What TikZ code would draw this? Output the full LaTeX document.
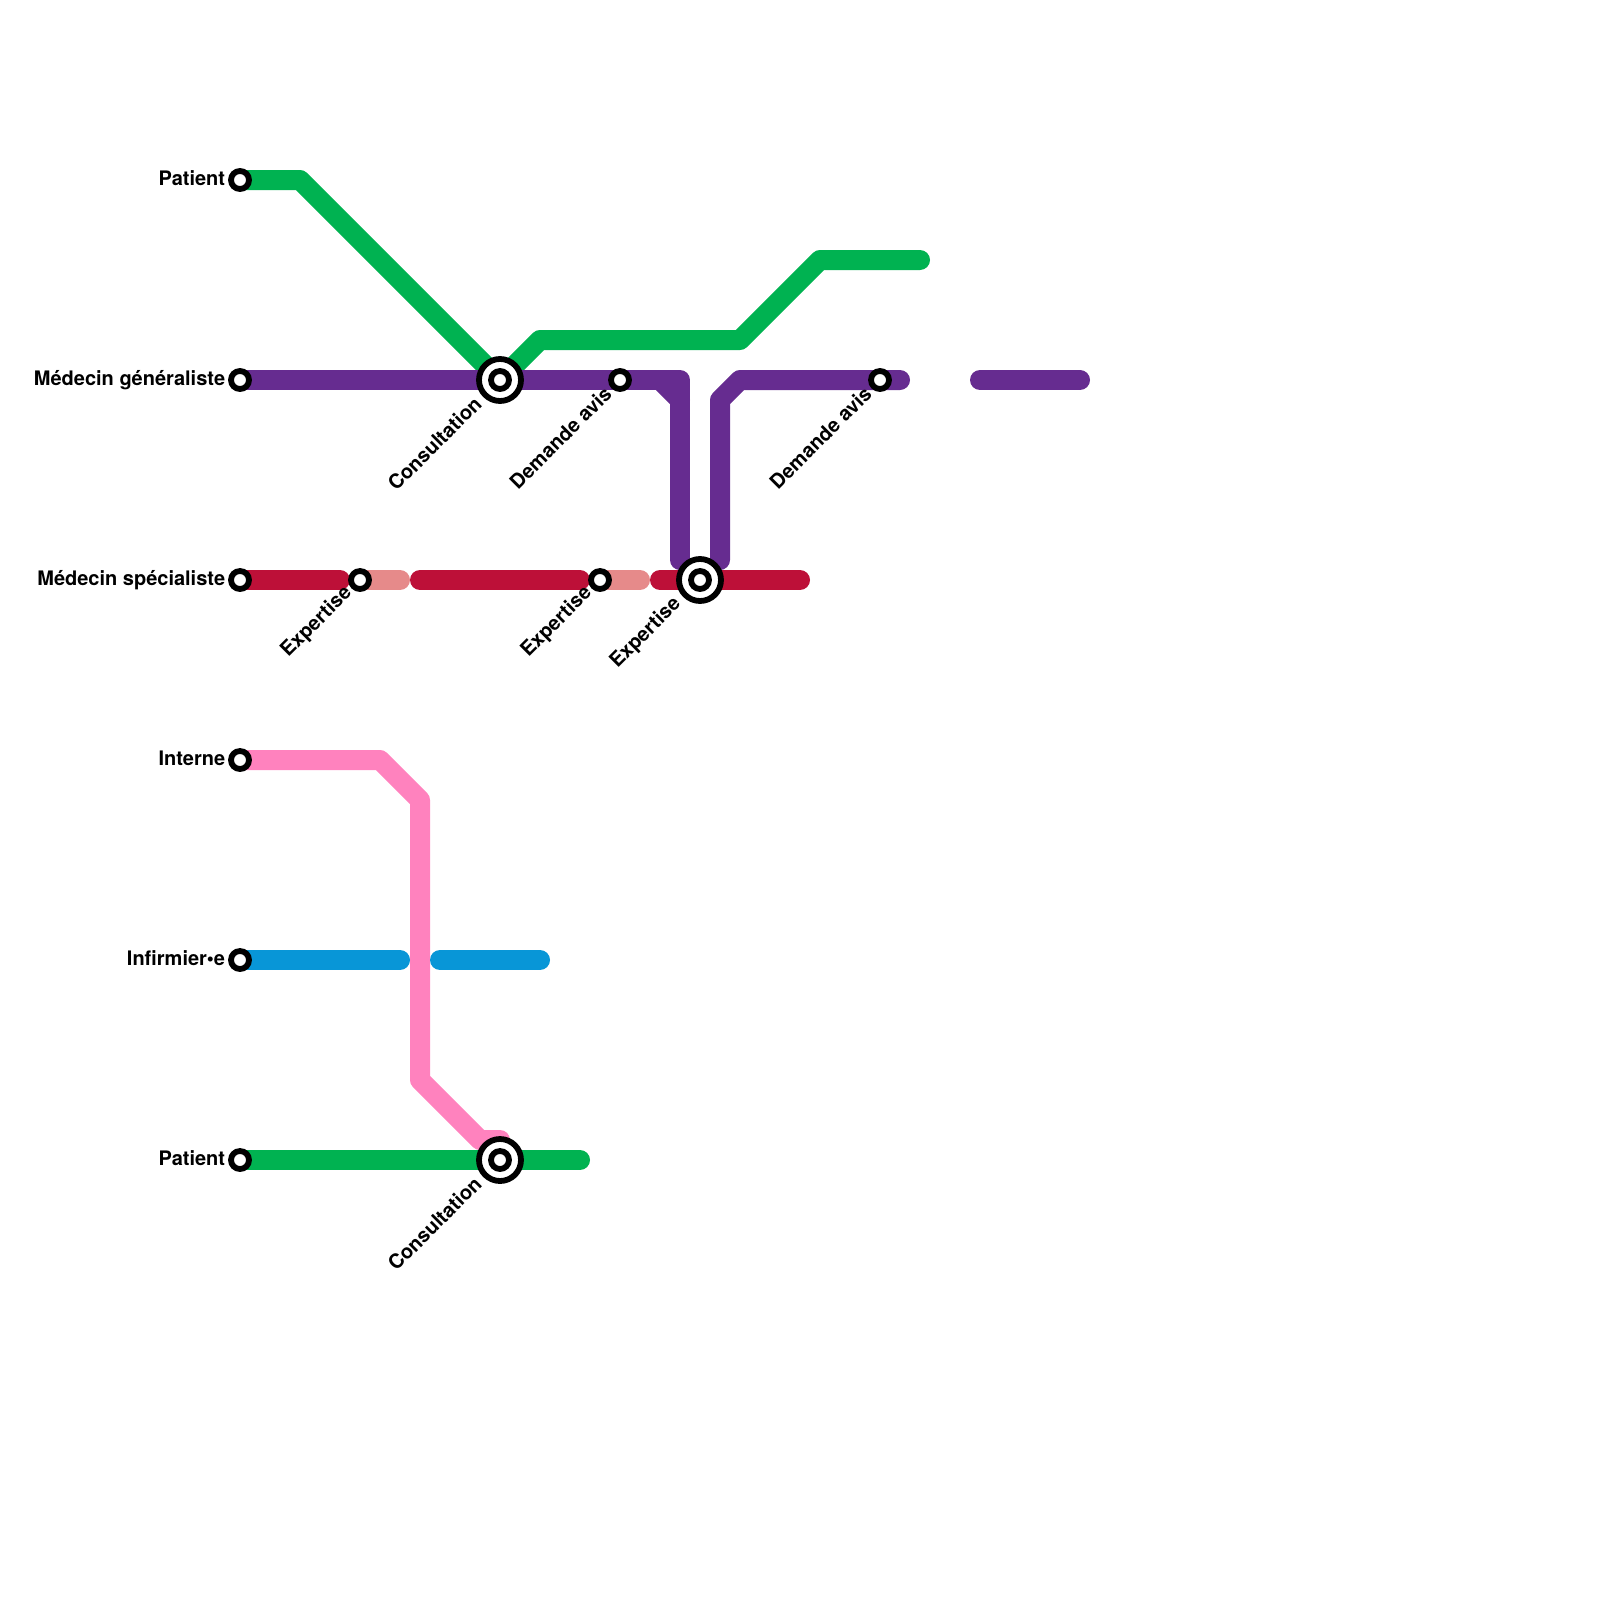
\documentclass[tikz,border=0pt]{standalone}
\usepackage{fontspec}
\setmainfont{TeX Gyre Heros}
\definecolor{lgreen}{HTML}{00B251}
\definecolor{lpurple}{HTML}{662C90}
\definecolor{lred}{HTML}{BD1038}
\definecolor{lsalmon}{HTML}{E68A8A}
\definecolor{lpink}{HTML}{FF82BE}
\definecolor{lblue}{HTML}{0896D7}
\tikzset{
  metro/.style={line width=10pt,line cap=round,line join=round},
  stopnode/.style={circle,draw=black,fill=white,line width=2.9pt,minimum size=9pt,inner sep=0pt},
  hubnode/.style={circle,draw=black,fill=white,line width=2.9pt,minimum size=21pt,inner sep=0pt},
  rowlabel/.style={anchor=base east,font=\bfseries\fontsize{10}{12}\selectfont,inner sep=0pt},
  slantlabel/.style={anchor=east,rotate=45,font=\bfseries\fontsize{10}{12}\selectfont,inner sep=0pt},
}
\begin{document}
\begin{tikzpicture}[x=0.5pt,y=-0.5pt]
\useasboundingbox (0,0) rectangle (1600,1600);
% way points
\foreach \n/\x/\y in {
 ga/300/180,gb/500/380,gc/540/340,gd/740/340,ge/820/260,gf/920/260,
 pa/680/380,pb/680/560,pc/660/380,pd/680/400,pe/720/560,pf/720/400,pg/740/380,ph/900/380,pi/980/380,pj/1080/380,
 ra/340/580,rb/400/580,rc/420/580,rd/580/580,re/640/580,rf/660/580,rg/800/580,
 ka/380/760,kb/420/800,kc/420/1080,kd/480/1140,ke/500/1140,
 ba/400/960,bb/440/960,bc/540/960,
 la/580/1160}
 {\coordinate (\n) at (\x,\y);}
% stations (positions only, drawn on top later)
\coordinate (sPatientA) at (240,180);
\coordinate (sGen) at (240,380);
\coordinate (sSpec) at (240,580);
\coordinate (sInt) at (240,760);
\coordinate (sInf) at (240,960);
\coordinate (sPatientB) at (240,1160);
\coordinate (hConsA) at (500,380);
\coordinate (hExp) at (700,580);
\coordinate (hConsB) at (500,1160);
\coordinate (sAvisA) at (620,380);
\coordinate (sAvisB) at (880,380);
\coordinate (sExpA) at (360,580);
\coordinate (sExpB) at (600,580);
% lines
\draw[metro,lpink] (sInt) -- (ka) -- (kb) -- (kc) -- (kd) -- (ke);
\draw[metro,lblue] (sInf) -- (ba);
\draw[metro,lblue] (bb) -- (bc);
\draw[metro,lgreen] (sPatientB) -- (la);
\draw[metro,lgreen] (sPatientA) -- (ga) -- (gb) -- (gc) -- (gd) -- (ge) -- (gf);
\draw[metro,lsalmon] (sExpA) -- (rb);
\draw[metro,lsalmon] (sExpB) -- (re);
\draw[metro,lred] (sSpec) -- (ra);
\draw[metro,lred] (rc) -- (rd);
\draw[metro,lred] (rf) -- (rg);
\draw[metro,lpurple] (sGen) -- (pa) -- (pb);
\draw[metro,lpurple] (pc) -- (pd);
\draw[metro,lpurple] (pe) -- (pf) -- (pg) -- (ph);
\draw[metro,lpurple] (pi) -- (pj);
% stations
\foreach \n in {sPatientA,sGen,sSpec,sInt,sInf,sPatientB,sAvisA,sAvisB,sExpA,sExpB}
  {\node[stopnode] (n\n) at (\n) {};}
\foreach \n in {hConsA,hExp,hConsB}
  {\node[hubnode] (n\n) at (\n) {};\node[stopnode] (m\n) at (\n) {};}
% row labels
\node[rowlabel] (tPatientA) at (225.5,185) {Patient};
\node[rowlabel] (tGen) at (225.5,385) {Médecin généraliste};
\node[rowlabel] (tSpec) at (225.5,585) {Médecin spécialiste};
\node[rowlabel] (tInt) at (225.5,765) {Interne};
\node[rowlabel] (tInf) at (225.5,965) {Infirmier•e};
\node[rowlabel] (tPatientB) at (225.5,1165) {Patient};
% slanted labels
\node[slantlabel] (tConsA) at (478,400) {Consultation};
\node[slantlabel] (tConsB) at (478,1180) {Consultation};
\node[slantlabel] (tAvisA) at (608,390) {Demande avis};
\node[slantlabel] (tAvisB) at (868,390) {Demande avis};
\node[slantlabel] (tExpA) at (349,590) {Expertise};
\node[slantlabel] (tExpB) at (589,590) {Expertise};
\node[slantlabel] (tExpC) at (678,601) {Expertise};
\end{tikzpicture}
\end{document}
